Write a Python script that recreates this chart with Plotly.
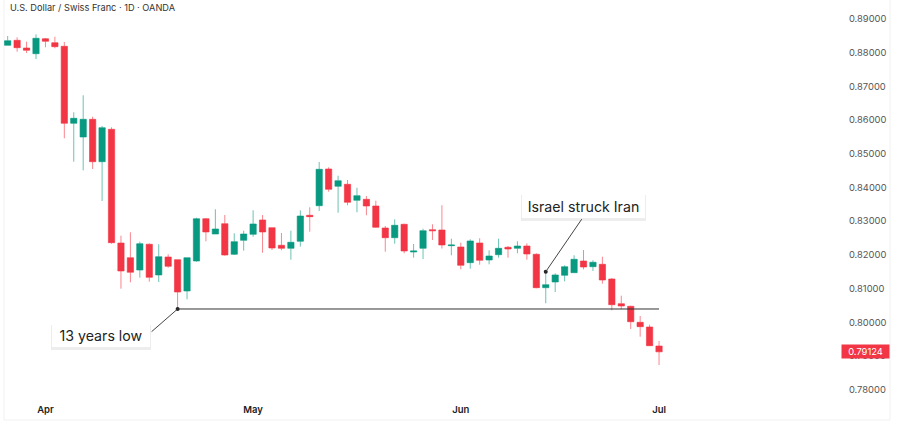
"""USD/CHF daily candles, spring 2025, with the two callouts."""
import pandas as pd
import plotly.graph_objects as go

dates = pd.bdate_range("2025-03-26", periods=70).strftime("%Y-%m-%d").tolist()

opens = [.88219, .88367, .88139, .87970, .88415, .88296, .88189, .85905, .85498, .86023,
         .84765, .85727, .82353, .81917, .81552, .82315, .81404, .81938, .81858, .80929,
         .81819, .83074, .82620, .82926, .82018, .82433, .82611, .83036, .82807, .82285,
         .82196, .82404, .83175, .83460, .84549, .84036, .84095, .83620, .83650, .83451,
         .82798, .82510, .82908, .82086, .82196, .82748, .82739, .82273, .82235, .81769,
         .82353, .81849, .82006, .82226, .82196, .82264, .82018, .81027, .81196, .81395,
         .81472, .81819, .81650, .81721, .81285, .80552, .80475, .80000, .79861, .79297]
highs = [.88495, .88456, .88326, .88545, .88436, .88474, .88317, .86231, .86735, .86100,
         .85825, .85786, .82570, .82671, .82392, .82344, .82315, .82018, .81858, .81917,
         .83104, .83095, .83353, .83184, .82641, .82718, .83323, .83184, .82807, .82650,
         .82718, .83323, .83412, .84757, .84599, .84350, .84222, .83994, .83748, .83608,
         .82857, .83056, .82926, .82323, .82777, .82908, .83472, .82481, .82362, .82463,
         .82493, .82137, .82481, .82264, .82404, .82344, .82048, .81502, .81454, .81692,
         .81988, .82146, .81840, .81947, .81315, .80790, .80493, .80187, .79929, .79445]
lows = [.88219, .88029, .87990, .87813, .88160, .88130, .85460, .84765, .84510, .84549,
        .83599, .82332, .80997, .81187, .81324, .81205, .81196, .81620, .80395, .80683,
        .81798, .82404, .82620, .81976, .81997, .82125, .82540, .82065, .82146, .82137,
        .81858, .82244, .82689, .83303, .83875, .83252, .83472, .83264, .83175, .82807,
        .82095, .82332, .82048, .81917, .81878, .82442, .82190, .81988, .81573, .81591,
        .81709, .81721, .81917, .81917, .82048, .81858, .81009, .80564, .80899, .81217,
        .81472, .81573, .81522, .81146, .80356, .80386, .79802, .79573, .79297, .78733]
closes = [.88355, .88148, .88071, .88427, .88338, .88177, .85905, .86053, .86023, .84765,
          .85774, .82362, .81522, .81484, .82332, .81335, .81947, .81662, .80899, .81917,
          .83074, .82680, .82769, .81997, .82392, .82620, .82917, .82680, .82205, .82196,
          .82374, .83154, .83134, .84540, .83946, .84201, .83561, .83757, .83451, .82819,
          .82510, .82878, .82116, .82116, .82718, .82718, .82294, .82294, .81692, .82413,
          .81840, .81967, .82196, .82175, .82264, .82027, .81027, .81116, .81404, .81650,
          .81870, .81641, .81781, .81255, .80522, .80484, .80018, .79870, .79306, .79124]

price_ticks = [.78, .79, .80, .81, .82, .83, .84, .85, .86, .87, .88, .89]
month_dates = ["2025-04-01", "2025-05-01", "2025-06-02", "2025-07-01"]
month_labels = ["Apr", "May", "Jun", "Jul"]

low_idx = 18     # 13 years low
struck_idx = 57  # Israel struck Iran

UP = "#089981"
DOWN = "#F23645"
FONT = "Inter"


def px(x):
    return (x - 4) / 836


def py(y):
    return 1 - y / 398


fig = go.Figure()
fig.add_trace(go.Candlestick(
    x=dates, open=opens, high=highs, low=lows, close=closes,
    increasing=dict(fillcolor=UP, line=dict(color="rgba(8,153,129,0.6)", width=1)),
    decreasing=dict(fillcolor=DOWN, line=dict(color="rgba(242,54,69,0.6)", width=1)),
    whiskerwidth=0,
))
fig.add_trace(go.Scatter(
    x=[dates[low_idx], dates[struck_idx]], y=[lows[low_idx], highs[struck_idx]],
    mode="markers", marker=dict(color="#222222", size=4),
))

# level line from the low to the last candle
fig.add_shape(type="line", x0=dates[low_idx], x1=dates[-1],
              y0=lows[low_idx], y1=lows[low_idx],
              line=dict(color="#333333", width=1))
# faint frame of the chart
fig.add_shape(type="rect", xref="paper", yref="paper", x0=0, x1=px(890), y0=py(420), y1=py(-8),
              line=dict(color="#f1f1f1", width=1), layer="below")
# soft shadow under the two callouts
for left, right, top, bottom in [(51, 151, 325, 350), (521, 646, 195, 221)]:
    fig.add_shape(type="rect", xref="paper", yref="paper", x0=px(left), x1=px(right),
                  y0=py(bottom), y1=py(top), fillcolor="rgba(0,0,0,0.07)", line_width=0)

# leader lines
fig.add_annotation(x=dates[low_idx], y=lows[low_idx], text="", showarrow=True,
                   ax=-27.5, ay=24, arrowhead=0, arrowwidth=1, arrowcolor="#444444", standoff=0)
fig.add_annotation(x=dates[struck_idx], y=highs[struck_idx], text="", showarrow=True,
                   ax=37, ay=-54, arrowhead=0, arrowwidth=1, arrowcolor="#444444", standoff=0)

box = dict(xref="paper", yref="paper", showarrow=False, bgcolor="white",
           xanchor="center", yanchor="middle", borderwidth=0, borderpad=0, height=23,
           font=dict(family=FONT, size=14.2, color="#222222"))
fig.add_annotation(x=px(101), y=py(335.5), text="13 years low", width=98, **box)
fig.add_annotation(x=px(583.5), y=py(206), text="Israel struck Iran", width=123, **box)

fig.add_annotation(xref="paper", yref="paper", x=px(8), y=py(7.5), xanchor="left", yanchor="middle",
                   text="U.S. Dollar / Swiss Franc · 1D · OANDA", showarrow=False,
                   font=dict(family=FONT, size=9.2, color="#333333"))
# last price tag
fig.add_annotation(xref="paper", yref="y", x=px(865.5), y=closes[-1], xanchor="center", yanchor="middle",
                   text=f"{closes[-1]:.5f}", showarrow=False, bgcolor=DOWN, width=47, height=13,
                   borderpad=0, font=dict(family=FONT, size=9.4, color="white"))

fig.update_layout(
    width=900, height=423, showlegend=False, hovermode=False,
    margin=dict(l=4, r=60, t=0, b=25), boxgap=0.05,
    paper_bgcolor="white", plot_bgcolor="white",
    font=dict(family=FONT),
)
fig.update_xaxes(
    type="category", range=[-0.39, 88.17], rangeslider_visible=False,
    tickmode="array", tickvals=month_dates, ticktext=month_labels,
    showgrid=False, zeroline=False, showline=False,
    ticks="outside", ticklen=3, tickcolor="white",
    tickfont=dict(family=FONT, size=9.5, color="#222222", weight=600),
)
fig.update_yaxes(
    side="right", range=[0.77754, 0.89563], tickmode="array", tickvals=price_ticks,
    tickformat=".5f", showgrid=False, zeroline=False, showline=False,
    ticks="outside", ticklen=6, tickcolor="white",
    tickfont=dict(family=FONT, size=9.4, color="#555555"),
)

# page default margin would push the figure 8px in and clip the price axis
fig.write_html("out.html", config=dict(displayModeBar=False),
               post_script="document.body.style.margin='0';")
